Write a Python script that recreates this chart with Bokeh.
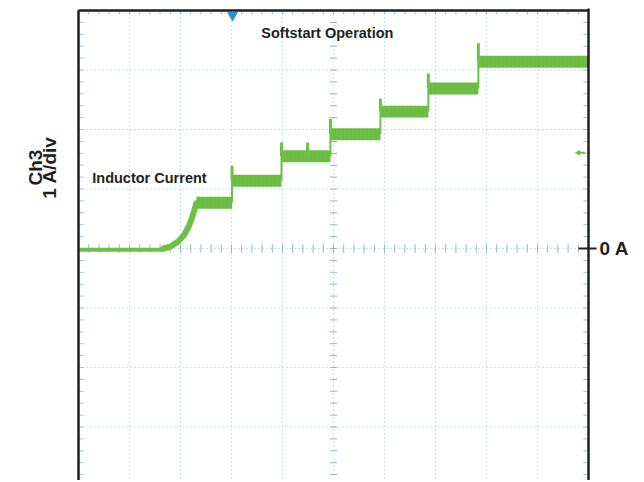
import numpy as np
from bokeh.plotting import figure
from bokeh.models import Label, LinearAxis, FixedTicker, Range1d
from bokeh.embed import file_html
from bokeh.resources import INLINE

# ---- data: time in scope divisions, current in A (1 A/div) ----
baseline_t = [0.0, 1.67]
baseline_i = [0.0, 0.0]
ramp_t = [1.67, 1.80, 1.96, 2.08, 2.16, 2.22, 2.27, 2.31]
ramp_i = [0.0, 0.03, 0.12, 0.24, 0.37, 0.50, 0.64, 0.76]
step_start = [2.31, 3.01, 3.98, 4.94, 5.92, 6.86, 7.84]
step_end = [3.01, 3.98, 4.94, 5.92, 6.86, 7.84, 10.0]
step_level = [0.77, 1.14, 1.55, 1.92, 2.30, 2.69, 3.14]
spike_t = [3.01, 3.98, 4.49, 4.94, 5.92, 6.86, 7.84]
spike_peak = [1.39, 1.78, 1.78, 2.18, 2.52, 2.94, 3.45]
ripple_half = 0.10
trigger_t = 3.02
level_marker_i = 1.61
div_x = list(range(1, 10))
div_y = list(range(-3, 4))

GREEN = "#6fbf47"
GREEN_D = "#4f9f2e"
BLUE = "#86c8e8"
INK = "#231f20"
FONT = "Liberation Sans"

p = figure(width=640, height=480, output_backend="svg", toolbar_location=None,
           x_range=Range1d(-1.5294, 10), y_range=Range1d(-3.899, 4.034),
           x_axis_location=None, y_axis_location=None,
           min_border_left=0, min_border_right=52, min_border_top=8, min_border_bottom=0)
p.outline_line_color = None
p.background_fill_color = "white"
p.xgrid.visible = False if p.xgrid else None
p.ygrid.visible = False if p.ygrid else None

# graticule (only inside the screen area)
p.segment(x0=div_x, y0=-4, x1=div_x, y1=4, line_color=BLUE, line_dash="1 3", line_width=1)
p.segment(x0=0, y0=div_y, x1=10, y1=div_y, line_color=BLUE, line_dash="1 3", line_width=1)
minor_x = np.arange(0, 10.001, 0.2)
minor_y = np.arange(-4, 4.001, 0.2)
p.segment(x0=minor_x, y0=-0.07, x1=minor_x, y1=0.07, line_color="#8fb8cc", line_width=1)
p.segment(x0=4.93, y0=minor_y, x1=5.07, y1=minor_y, line_color="#8fb8cc", line_width=1)
p.segment(x0=minor_x, y0=3.93, x1=minor_x, y1=4.0, line_color=BLUE, line_width=1)
p.segment(x0=0, y0=minor_y, x1=0.1, y1=minor_y, line_color=BLUE, line_width=1)
p.segment(x0=9.9, y0=minor_y, x1=10, y1=minor_y, line_color=BLUE, line_width=1)

# trace: baseline + ramp
p.line(baseline_t, [v - 0.02 for v in baseline_i], line_color=GREEN, line_width=4)
p.line(ramp_t, ramp_i, line_color=GREEN, line_width=6, line_join="round", line_cap="round")
# steps with ripple band
p.quad(left=step_start, right=step_end,
       bottom=[v - ripple_half for v in step_level], top=[v + ripple_half for v in step_level],
       fill_color=GREEN, line_color=None,
       hatch_pattern="vertical_line", hatch_color=GREEN_D, hatch_scale=4, hatch_weight=1, hatch_alpha=0.3)
prev = [ramp_i[-1]] + step_level[:-1]
p.segment(x0=step_start, y0=prev, x1=step_start, y1=step_level, line_color=GREEN, line_width=2)
spike_base = [step_level[max(i for i, s in enumerate(step_start) if s <= t)] for t in spike_t]
p.segment(x0=spike_t, y0=spike_base, x1=spike_t, y1=spike_peak, line_color=GREEN, line_width=3)

# markers
p.scatter([trigger_t], [3.92], marker="inverted_triangle", size=11, fill_color="#2f8fd8", line_color=None)
p.segment(x0=[9.80], y0=[level_marker_i], x1=[9.93], y1=[level_marker_i], line_color=GREEN, line_width=2)
p.scatter([9.80], [level_marker_i], marker="triangle", angle=np.pi / 2, size=6,
          fill_color=GREEN, line_color=None)

# screen borders: left, top; right border is the axis line
p.segment(x0=[0, 0], y0=[-4.5, 4.0], x1=[0, 10], y1=[4.0, 4.0], line_color=INK, line_width=2.5)
ax = LinearAxis(ticker=FixedTicker(ticks=[0]), major_label_overrides={0: "0 A"},
                axis_line_color=INK, axis_line_width=2.5,
                major_tick_in=10, major_tick_out=8, major_tick_line_width=2, major_tick_line_color=INK,
                minor_tick_line_color=None, major_label_standoff=3,
                major_label_text_font=FONT, major_label_text_font_style="bold",
                major_label_text_font_size="19px", major_label_text_color=INK)
p.add_layout(ax, "right")

# texts
p.add_layout(Label(x=4.88, y=3.63, text="Softstart Operation", text_align="center", text_baseline="middle",
                   text_font=FONT, text_font_style="bold", text_font_size="14.5px", text_color=INK))
p.add_layout(Label(x=0.27, y=1.18, text="Inductor Current", text_align="left", text_baseline="middle",
                   text_font=FONT, text_font_style="bold", text_font_size="14.5px", text_color=INK))
p.add_layout(Label(x=-0.843, y=1.36, text="Ch3", angle=np.pi / 2, text_align="center", text_baseline="middle",
                   text_font=FONT, text_font_style="bold", text_font_size="19px", text_color=INK))
p.add_layout(Label(x=-0.569, y=1.36, text="1 A/div", angle=np.pi / 2, text_align="center", text_baseline="middle",
                   text_font=FONT, text_font_style="bold", text_font_size="19px", text_color=INK))

open("out.html", "w").write(file_html(p, INLINE))
